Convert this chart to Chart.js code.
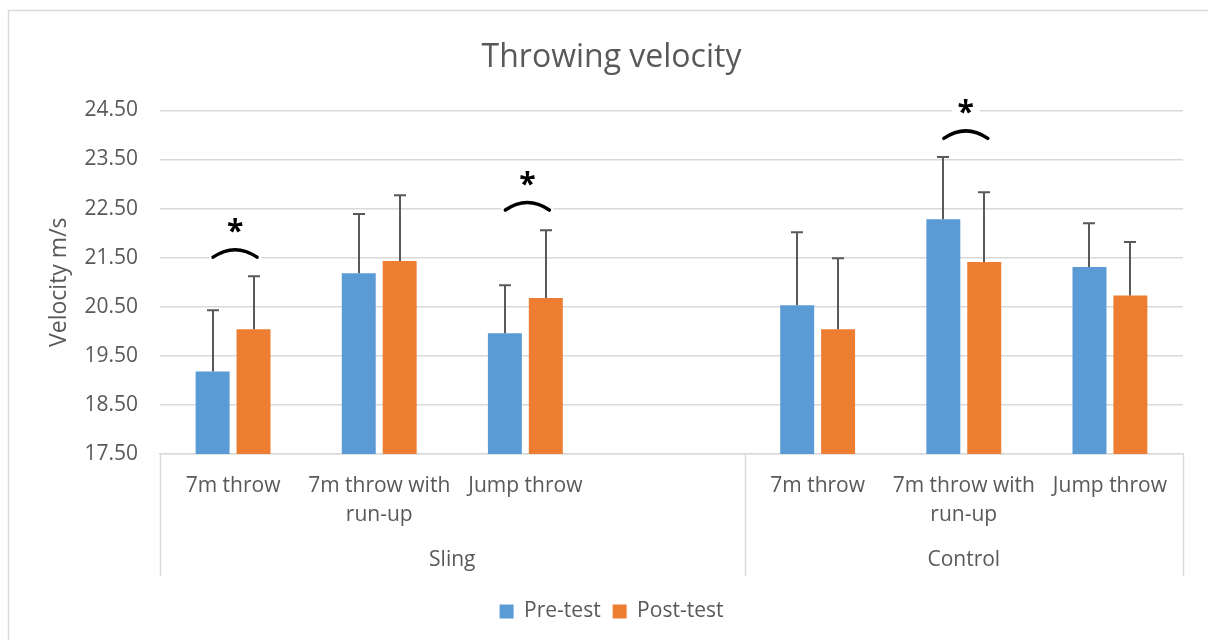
<!DOCTYPE html>
<html>
<head>
<meta charset="utf-8">
<script src="https://cdn.jsdelivr.net/npm/chart.js@4.4.1/dist/chart.umd.min.js"></script>
<style>
  html, body { margin: 0; padding: 0; background: #fff; }
  canvas { display: block; }
</style>
</head>
<body>
<canvas id="myChart" width="1208" height="640"></canvas>
<script>
// data
var categories = [['7m throw'], ['7m throw with', 'run-up'], ['Jump throw'], [''],
                  ['7m throw'], ['7m throw with', 'run-up'], ['Jump throw']];
var groups = ['Sling', 'Control'];
var groupSizes = [4, 3];
var preTest = [19.18, 21.18, 19.96, null, 20.53, 22.28, 21.31];
var postTest = [20.04, 21.43, 20.68, null, 20.04, 21.41, 20.73];
var preTestUpper = [20.43, 22.39, 20.94, null, 22.02, 23.55, 22.20];
var postTestUpper = [21.12, 22.77, 22.06, null, 21.49, 22.83, 21.82];
var yTicks = [17.5, 18.5, 19.5, 20.5, 21.5, 22.5, 23.5, 24.5];
// significance marks: category index and value at the ends of the arc
var sigCats = [0, 2, 5];
var sigArcValues = [21.51, 22.47, 23.93];

var textColor = '#595959';
var gridColor = '#d9d9d9';
var fontFamily = '"Open Sans", sans-serif';

// upper error bars
var errorBars = {
  id: 'errorBars',
  afterDatasetsDraw: function(chart) {
    var ctx = chart.ctx;
    var yScale = chart.scales.y;
    var uppers = [preTestUpper, postTestUpper];
    ctx.save();
    ctx.strokeStyle = '#595959';
    ctx.lineWidth = 2;
    chart.data.datasets.forEach(function(ds, i) {
      var meta = chart.getDatasetMeta(i);
      meta.data.forEach(function(bar, j) {
        var up = uppers[i][j];
        if (up == null || ds.data[j] == null) return;
        var yTop = yScale.getPixelForValue(up);
        var x = Math.round(bar.x);
        ctx.beginPath();
        ctx.moveTo(x, bar.y);
        ctx.lineTo(x, yTop);
        ctx.moveTo(x - 6, yTop);
        ctx.lineTo(x + 6, yTop);
        ctx.stroke();
      });
    });
    ctx.restore();
  }
};

// asterisks with arcs
var sigMarks = {
  id: 'sigMarks',
  afterDatasetsDraw: function(chart) {
    var ctx = chart.ctx;
    var xScale = chart.scales.x;
    var yScale = chart.scales.y;
    ctx.save();
    sigCats.forEach(function(c, k) {
      var cx = xScale.getPixelForValue(c) + 2;
      var yEnd = yScale.getPixelForValue(sigArcValues[k]);
      var yStar = yEnd - 31;
      ctx.fillStyle = '#fff';
      ctx.fillRect(cx - 26, yEnd - 11, 52, 15);
      ctx.fillRect(cx - 14, yStar - 13, 28, 26);
      ctx.strokeStyle = '#000';
      ctx.lineWidth = 3.5;
      ctx.lineCap = 'round';
      ctx.beginPath();
      ctx.moveTo(cx - 22, yEnd);
      ctx.quadraticCurveTo(cx, yEnd - 15, cx + 22, yEnd);
      ctx.stroke();
      ctx.fillStyle = '#000';
      ctx.font = 'bold 30px ' + fontFamily;
      ctx.textAlign = 'center';
      ctx.textBaseline = 'middle';
      ctx.fillText('*', cx, yStar + 6);
    });
    ctx.restore();
  }
};

// group labels and separators under the category axis
var groupAxis = {
  id: 'groupAxis',
  afterDraw: function(chart) {
    var ctx = chart.ctx;
    var xScale = chart.scales.x;
    var w = (xScale.right - xScale.left) / categories.length;
    var top = xScale.top;
    ctx.save();
    ctx.strokeStyle = gridColor;
    ctx.lineWidth = 1.5;
    ctx.fillStyle = textColor;
    ctx.font = '21px ' + fontFamily;
    ctx.textAlign = 'center';
    ctx.textBaseline = 'middle';
    var start = 0;
    var edges = [xScale.left];
    groups.forEach(function(g, i) {
      var x0 = xScale.left + start * w;
      var x1 = x0 + groupSizes[i] * w;
      edges.push(x1);
      ctx.fillText(g, (x0 + x1) / 2, top + 106);
      start += groupSizes[i];
    });
    edges.forEach(function(x) {
      ctx.beginPath();
      ctx.moveTo(Math.round(x) + 0.5, top);
      ctx.lineTo(Math.round(x) + 0.5, top + 122);
      ctx.stroke();
    });
    ctx.restore();
  }
};

var chartBorder = {
  id: 'chartBorder',
  beforeDraw: function(chart) {
    var ctx = chart.ctx;
    ctx.save();
    ctx.fillStyle = '#fff';
    ctx.fillRect(0, 0, chart.width, chart.height);
    ctx.strokeStyle = gridColor;
    ctx.lineWidth = 1.5;
    ctx.strokeRect(8.5, 10.5, 1300, 700);
    ctx.restore();
  }
};

var ctx = document.getElementById('myChart').getContext('2d');
new Chart(ctx, {
  type: 'bar',
  data: {
    labels: categories,
    datasets: [{
      label: 'Pre-test',
      data: preTest,
      backgroundColor: '#5b9bd5',
      categoryPercentage: 0.56,
      barPercentage: 0.83
    }, {
      label: 'Post-test',
      data: postTest,
      backgroundColor: '#ed7d31',
      categoryPercentage: 0.56,
      barPercentage: 0.83
    }]
  },
  plugins: [chartBorder, errorBars, sigMarks, groupAxis],
  options: {
    responsive: false,
    animation: false,
    layout: { padding: { left: 40, right: 25, top: 0, bottom: 8 } },
    plugins: {
      title: {
        display: true,
        text: 'Throwing velocity',
        color: textColor,
        font: { family: fontFamily, size: 32, weight: 'normal' },
        padding: { top: 39, bottom: 33 }
      },
      legend: {
        position: 'bottom',
        labels: {
          color: textColor,
          font: { family: fontFamily, size: 21 },
          boxWidth: 14,
          boxHeight: 14,
          padding: 12
        }
      },
      tooltip: { enabled: false }
    },
    scales: {
      x: {
        grid: { display: false },
        border: { color: gridColor, width: 1.5 },
        ticks: {
          color: textColor,
          font: { family: fontFamily, size: 21, lineHeight: 1.4 },
          padding: 9,
          maxRotation: 0,
          autoSkip: false
        },
        afterFit: function(scale) { scale.height = 135; }
      },
      y: {
        min: 17.5,
        max: 24.5,
        grid: { color: gridColor, lineWidth: 1.5, drawTicks: false },
        border: { display: false },
        afterBuildTicks: function(scale) {
          scale.ticks = yTicks.map(function(v) { return { value: v }; });
        },
        ticks: {
          color: textColor,
          font: { family: fontFamily, size: 21 },
          padding: 22,
          callback: function(v) { return Number(v).toFixed(2); }
        },
        title: {
          display: true,
          text: 'Velocity m/s',
          color: textColor,
          font: { family: fontFamily, size: 23 },
          padding: { top: 6, bottom: 0 }
        },
        afterFit: function(scale) { scale.width = 120; }
      }
    }
  }
});
</script>
</body>
</html>
